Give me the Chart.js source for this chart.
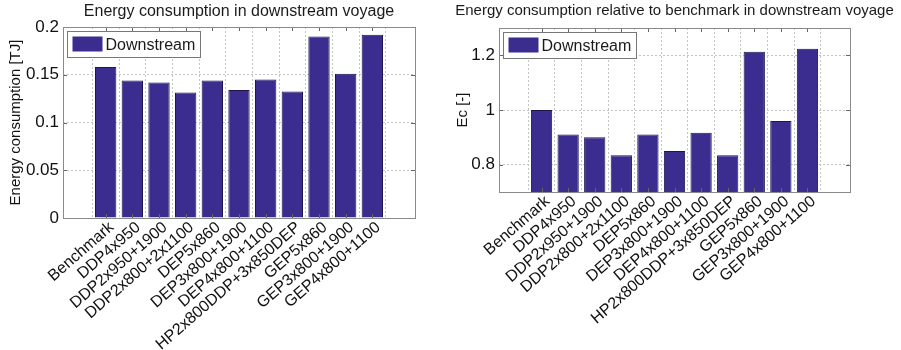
<!DOCTYPE html>
<html>
<head>
<meta charset="utf-8">
<script src="https://cdn.jsdelivr.net/npm/chart.js@4/dist/chart.umd.min.js"></script>
<style>
  body { margin: 0; background: #fff; }
  .box { position: absolute; top: 0; height: 350px; }
  #leftBox { left: 0; width: 450px; }
  #rightBox { left: 450px; width: 451px; }
</style>
</head>
<body>
<div class="box" id="leftBox"><canvas id="energyChart"></canvas></div>
<div class="box" id="rightBox"><canvas id="relChart"></canvas></div>
<script>
// data
const categories = ['Benchmark', 'DDP4x950', 'DDP2x950+1900', 'DDP2x800+2x1100', 'DEP5x860',
  'DEP3x800+1900', 'DEP4x800+1100', 'HP2x800DDP+3x850DEP', 'GEP5x860', 'GEP3x800+1900', 'GEP4x800+1100'];
const energyTJ = [0.158, 0.144, 0.142, 0.1315, 0.144, 0.134, 0.145, 0.1325, 0.190, 0.151, 0.192];
const relativeEc = [1.0, 0.91, 0.90, 0.834, 0.91, 0.85, 0.917, 0.834, 1.213, 0.96, 1.224];
const energyTicks = [0, 0.05, 0.1, 0.15, 0.2];
const relTicks = [0.8, 1, 1.2];

const FONT = "'Liberation Sans', Arial, sans-serif";
const BAR = '#3a2d8f';

// MATLAB-ish frame: full box, inward ticks, title and in-plot legend
const matlabFrame = {
  id: 'matlabFrame',
  afterDraw(chart, args, opts) {
    const { ctx, chartArea: a, scales } = chart;
    ctx.save();
    // inward tick marks
    ctx.strokeStyle = '#666';
    ctx.lineWidth = 1;
    ctx.beginPath();
    scales.x.ticks.forEach(t => {
      const px = Math.round(scales.x.getPixelForValue(t.value)) + 0.5;
      ctx.moveTo(px, a.bottom); ctx.lineTo(px, a.bottom - 4);
      ctx.moveTo(px, a.top); ctx.lineTo(px, a.top + 4);
    });
    scales.y.ticks.forEach(t => {
      const py = Math.round(scales.y.getPixelForValue(t.value)) + 0.5;
      ctx.moveTo(a.left, py); ctx.lineTo(a.left + 4, py);
      ctx.moveTo(a.right, py); ctx.lineTo(a.right - 4, py);
    });
    ctx.stroke();
    // box
    ctx.strokeStyle = '#8a8a8a';
    ctx.strokeRect(Math.round(a.left) + 0.5, Math.round(a.top) + 0.5,
      Math.round(a.right - a.left), Math.round(a.bottom - a.top));
    // title
    ctx.fillStyle = '#1a1a1a';
    ctx.font = opts.titleSize + 'px ' + FONT;
    ctx.textAlign = 'center';
    ctx.textBaseline = 'middle';
    ctx.fillText(opts.title, (a.left + a.right) / 2, opts.titleY);
    // legend
    const lx = Math.round(a.left) + 4.5, ly = Math.round(a.top) + 4.5;
    ctx.fillStyle = '#fff';
    ctx.fillRect(lx, ly, 133, 26);
    ctx.strokeStyle = '#777';
    ctx.strokeRect(lx, ly, 133, 26);
    ctx.fillStyle = BAR;
    ctx.fillRect(lx + 5, ly + 5, 30, 15);
    ctx.fillStyle = '#1a1a1a';
    ctx.font = '16px ' + FONT;
    ctx.textAlign = 'left';
    ctx.fillText('Downstream', lx + 38, ly + 14);
    ctx.restore();
  }
};

function makeChart(id, values, yTicks, yMin, yMax, yTitle, title, layout) {
  const ctx = document.getElementById(id).getContext('2d');
  return new Chart(ctx, {
    type: 'bar',
    data: {
      datasets: [{
        label: 'Downstream',
        data: values.map((v, i) => ({ x: i + 1, y: v })),
        backgroundColor: BAR,
        borderColor: '#1e1650',
        borderWidth: 1,
        barPercentage: 0.8,
        categoryPercentage: 1
      }]
    },
    options: {
      responsive: true,
      maintainAspectRatio: false,
      animation: false,
      layout: { padding: { left: 0, top: layout.top, right: layout.right, bottom: 0 } },
      plugins: {
        legend: { display: false },
        tooltip: { enabled: false },
        matlabFrame: { title: title, titleY: layout.titleY, titleSize: layout.titleSize }
      },
      scales: {
        x: {
          type: 'linear',
          min: 0,
          max: 12,
          afterBuildTicks: s => { s.ticks = categories.map((c, i) => ({ value: i + 1 })); },
          afterFit: s => { s.height = layout.xHeight; },
          grid: { color: '#c4c4c4', drawTicks: false },
          border: { display: false, dash: [2, 2] },
          ticks: {
            autoSkip: false,
            maxRotation: 41,
            minRotation: 41,
            padding: 0,
            labelOffset: 6,
            color: '#111',
            font: { family: FONT, size: 16 },
            callback: v => categories[v - 1] || ''
          }
        },
        y: {
          min: yMin,
          max: yMax,
          afterBuildTicks: s => { s.ticks = yTicks.map(v => ({ value: v })); },
          afterFit: s => { s.width = layout.yWidth; },
          grid: { color: '#c4c4c4', drawTicks: false },
          border: { display: false, dash: [2, 2] },
          title: {
            display: true,
            text: yTitle,
            color: '#111',
            font: { family: FONT, size: 15 },
            padding: { top: layout.yTitlePad, bottom: 0 }
          },
          ticks: {
            padding: 4,
            color: '#111',
            font: { family: FONT, size: 17 },
            callback: v => String(v)
          }
        }
      }
    },
    plugins: [matlabFrame]
  });
}

makeChart('energyChart', energyTJ, energyTicks, 0, 0.2, 'Energy consumption [TJ]',
  'Energy consumption in downstream voyage',
  { top: 27, right: 35, xHeight: 132, yWidth: 63, yTitlePad: 7, titleY: 12, titleSize: 16 });

makeChart('relChart', relativeEc, relTicks, 0.7, 1.3, 'Ec [-]',
  'Energy consumption relative to benchmark in downstream voyage',
  { top: 28, right: 51, xHeight: 158, yWidth: 49, yTitlePad: 4, titleY: 11, titleSize: 15 });
</script>
</body>
</html>
